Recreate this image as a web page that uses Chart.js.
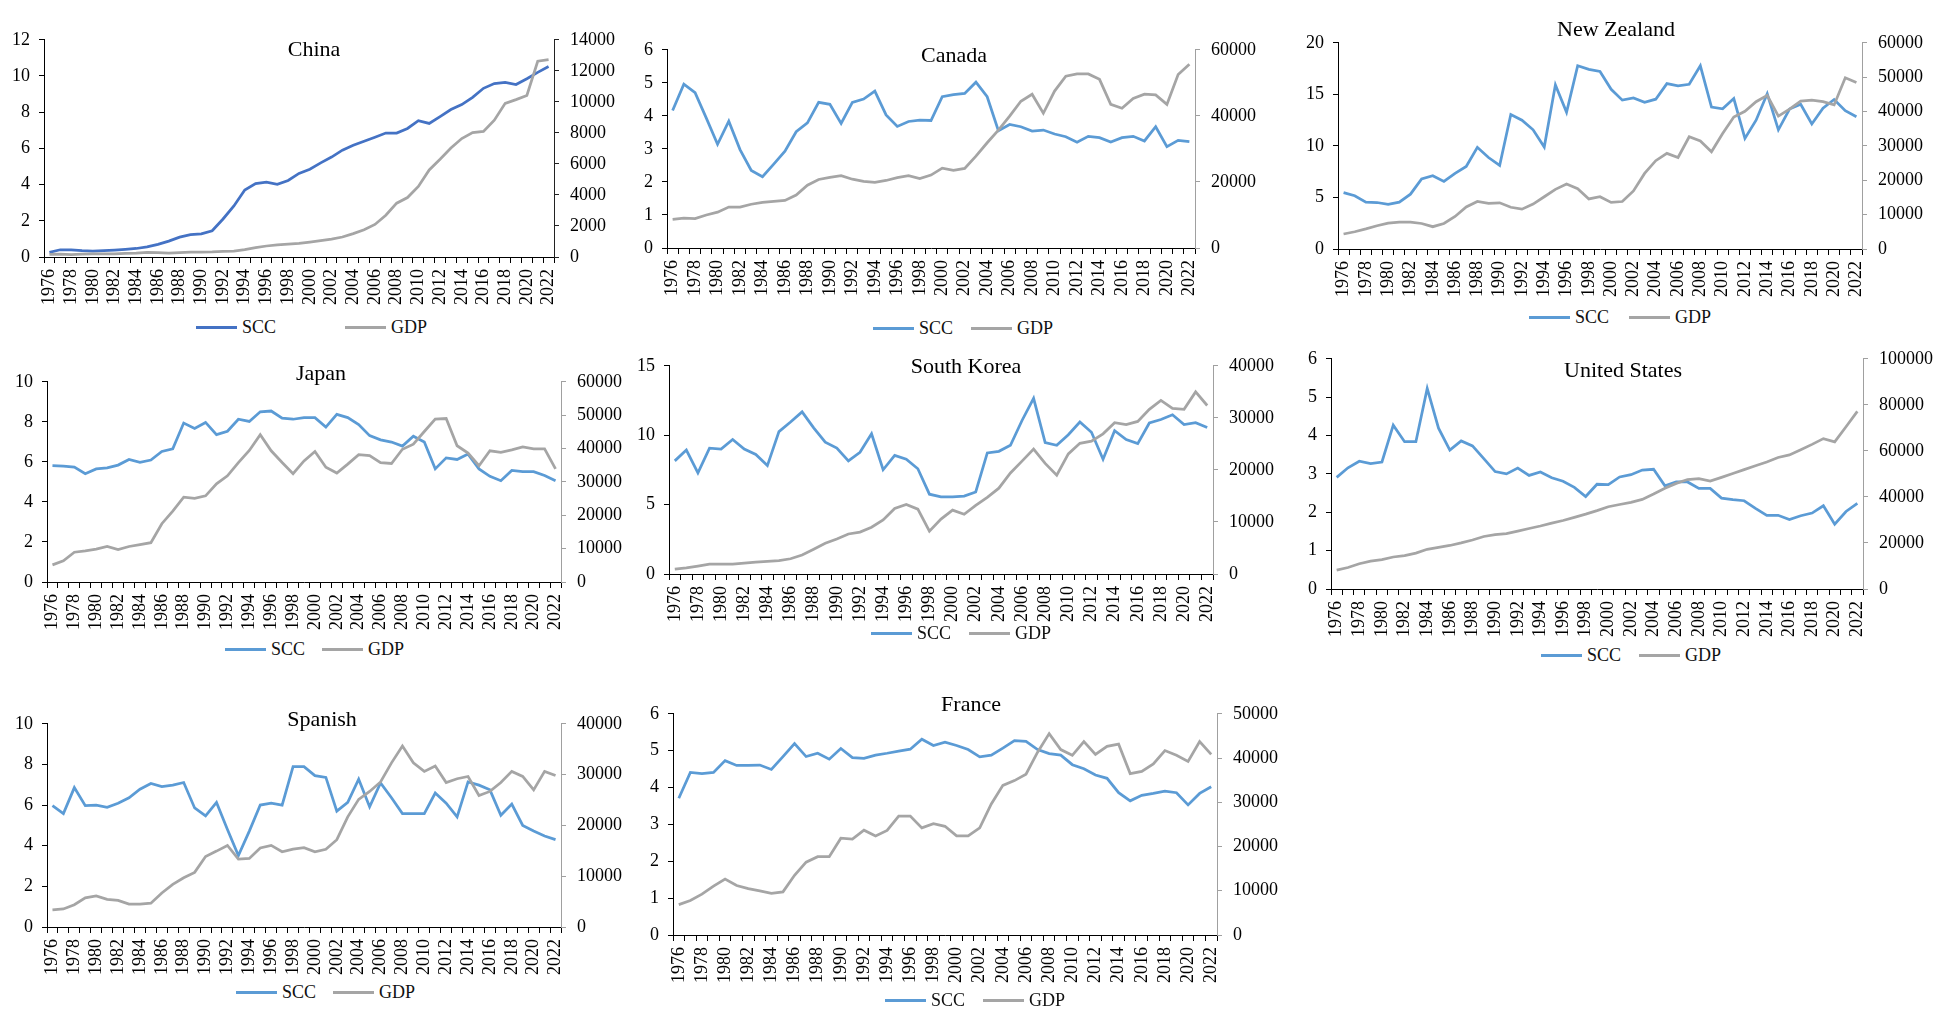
<!DOCTYPE html>
<html>
<head>
<meta charset="utf-8">
<script src="https://cdn.jsdelivr.net/npm/chart.js@4.4.1/dist/chart.umd.min.js"></script>
<style>
  body { margin: 0; background: #fff; width: 1946px; height: 1029px; position: relative; overflow: hidden;
         font-family: 'Liberation Serif', 'Times New Roman', serif; }
  .panel { position: absolute; }
  .title { position: absolute; font-size: 22px; transform: translate(-50%, -50%); white-space: nowrap; color: #000; }
  .leg { position: absolute; height: 20px; font-size: 18px; color: #111; white-space: nowrap; }
  .leg .ln { position: absolute; top: 9px; width: 41px; height: 3px; }
  .leg .tx { position: absolute; top: 0; line-height: 20px; }
</style>
</head>
<body>
<script>
// Categories
const years = ['1976','1977','1978','1979','1980','1981','1982','1983','1984','1985',
  '1986','1987','1988','1989','1990','1991','1992','1993','1994','1995',
  '1996','1997','1998','1999','2000','2001','2002','2003','2004','2005',
  '2006','2007','2008','2009','2010','2011','2012','2013','2014','2015',
  '2016','2017','2018','2019','2020','2021','2022'];

const countries = ['China', 'Canada', 'New Zealand', 'Japan', 'South Korea', 'United States', 'Spanish', 'France'];

// SCC series (left axis)
const sccChina = [0.26,0.40,0.40,0.35,0.32,0.35,0.38,0.42,0.47,0.56, 0.70,0.88,1.10,1.23,1.28,1.45,2.10,2.82,3.70,4.06,
  4.13,4.02,4.23,4.62,4.85,5.20,5.52,5.90,6.17,6.40, 6.62,6.85,6.85,7.10,7.53,7.38,7.76,8.15,8.42,8.82, 9.32,9.58,9.65,9.53,9.85,10.20,10.52];
const sccCanada = [4.16,4.96,4.70,3.93,3.14,3.84,2.98,2.35,2.16,2.54, 2.93,3.52,3.79,4.41,4.35,3.77,4.41,4.51,4.75,4.03,
  3.68,3.83,3.87,3.86,4.58,4.64,4.68,5.02,4.58,3.55, 3.74,3.67,3.54,3.57,3.45,3.37,3.20,3.38,3.34,3.21, 3.34,3.38,3.24,3.67,3.07,3.26,3.22];
const sccNZ = [5.47,5.16,4.54,4.51,4.33,4.54,5.32,6.80,7.11,6.55, 7.33,8.00,9.86,8.87,8.10,13.05,12.49,11.56,9.89,15.92,
  13.26,17.77,17.43,17.22,15.49,14.44,14.65,14.22,14.53,16.04, 15.83,15.98,17.77,13.76,13.60,14.59,10.73,12.49,15.05,11.56, 13.57,14.03,12.12,13.66,14.50,13.42,12.83];
const sccJapan = [5.81,5.79,5.74,5.41,5.65,5.70,5.84,6.12,5.98,6.09, 6.52,6.65,7.94,7.67,7.97,7.36,7.53,8.13,8.02,8.50,
  8.54,8.18,8.13,8.21,8.21,7.74,8.37,8.21,7.86,7.31, 7.10,6.99,6.79,7.28,6.99,5.65,6.20,6.12,6.39,5.65, 5.28,5.06,5.57,5.51,5.51,5.32,5.06];
const sccKorea = [8.15,8.93,7.28,9.07,9.00,9.69,9.00,8.61,7.81,10.26, 10.95,11.68,10.53,9.50,9.07,8.15,8.77,10.10,7.51,8.54,
  8.27,7.58,5.75,5.56,5.56,5.61,5.91,8.72,8.84,9.27, 11.06,12.66,9.46,9.27,10.03,10.95,10.21,8.27,10.33,9.69, 9.39,10.88,11.13,11.47,10.76,10.90,10.56];
const sccUS = [2.91,3.16,3.33,3.27,3.31,4.27,3.84,3.84,5.23,4.19, 3.62,3.86,3.73,3.40,3.06,3.00,3.15,2.96,3.05,2.90,
  2.81,2.65,2.41,2.73,2.72,2.92,2.98,3.10,3.12,2.69, 2.79,2.79,2.62,2.62,2.37,2.33,2.30,2.10,1.92,1.92, 1.81,1.91,1.98,2.17,1.69,2.02,2.23];
const sccSpain = [5.97,5.58,6.86,5.97,6.00,5.89,6.09,6.36,6.78,7.06, 6.91,6.98,7.11,5.86,5.47,6.13,4.80,3.52,4.72,6.00,
  6.09,6.00,7.89,7.89,7.45,7.36,5.70,6.13,7.27,5.92, 7.09,6.36,5.58,5.58,5.58,6.59,6.09,5.42,7.14,6.98, 6.75,5.50,6.05,5.00,4.72,4.48,4.30];
const sccFrance = [3.71,4.41,4.38,4.41,4.73,4.60,4.60,4.61,4.49,4.84, 5.19,4.84,4.93,4.77,5.06,4.81,4.79,4.88,4.93,4.99,
  5.04,5.31,5.14,5.23,5.14,5.03,4.83,4.88,5.07,5.27, 5.25,5.03,4.92,4.88,4.62,4.51,4.34,4.25,3.86,3.64, 3.79,3.84,3.90,3.86,3.53,3.84,4.02];

// GDP series (right axis)
const gdpChina = [165,185,157,184,195,197,203,226,251,294, 282,252,284,311,318,333,366,377,473,610,
  709,782,829,873,959,1053,1149,1289,1509,1753, 2099,2694,3468,3832,4550,5614,6301,7020,7636,8016, 8094,8817,9905,10144,10409,12618,12720];
const gdpCanada = [8640,9020,8930,9980,10850,12380,12380,13240,13820,14110, 14400,16030,19000,20730,21400,21880,20830,20150,19870,20440,
  21300,21880,21020,22070,24180,23510,24090,27830,31860,35700, 39920,44430,46550,40790,47500,52020,52690,52690,51060,43470, 42320,45300,46550,46350,43470,52500,55660];
const gdpNZ = [4360,5010,5840,6770,7510,7790,7790,7420,6490,7420, 9460,12240,13820,13270,13450,12150,11600,13080,15210,17350,
  18920,17530,14560,15210,13540,13820,16880,21990,25700,27830, 26620,32650,31450,28290,33580,38400,40070,42860,44710,38680, 40720,43040,43320,42860,41930,49810,48420];
const gdpJapan = [5130,6360,8930,9310,9880,10640,9690,10640,11210,11780, 17470,21270,25450,25070,25830,29440,31810,35800,39410,44160,
  39320,35800,32480,36280,39130,34380,32670,35330,38180,37890, 35800,35520,39790,41310,45110,48810,49000,40840,38650,34850, 39320,38840,39600,40460,39890,39890,33900];
const gdpKorea = [920,1160,1530,1890,1890,1890,2080,2260,2440,2560, 2930,3660,4760,5920,6720,7690,8060,8980,10380,12580,
  13370,12460,8240,10560,12270,11480,13190,14720,16490,19420, 21680,24000,21250,18990,23080,25100,25530,26930,29070,28700, 29310,31630,33340,31820,31630,34990,32370];
const gdpUS = [8200,9320,10990,12100,12790,13900,14460,15570,17240,18080, 18910,20020,21270,22800,23640,24050,25160,26270,27380,28630,
  29750,31140,32530,34060,35730,36700,37670,38920,41280,43790, 45870,47540,47960,46840,48510,50180,51850,53520,55180,57130, 58240,60470,62830,65330,63940,70470,77150];
const gdpSpain = [3380,3560,4380,5750,6130,5440,5250,4500,4500,4690, 6690,8380,9690,10750,13880,14940,16060,13380,13500,15560,
  16060,14810,15310,15630,14810,15310,17190,21690,25130,26690, 28560,32310,35630,32310,30630,31690,28440,29190,29630,25880, 26690,28440,30630,29630,27000,30630,29810];
const gdpFrance = [6860,7800,9250,11050,12640,11200,10480,9970,9390,9750, 13510,16470,17700,17700,21890,21680,23700,22400,23630,26880,
  26880,24210,25140,24570,22400,22400,24210,29620,33820,34900, 36340,41330,45520,41910,40610,43710,40820,42630,43140,36490, 36990,38660,41690,40610,39230,43710,40820];

const sccSeries = [sccChina, sccCanada, sccNZ, sccJapan, sccKorea, sccUS, sccSpain, sccFrance];
const gdpSeries = [gdpChina, gdpCanada, gdpNZ, gdpJapan, gdpKorea, gdpUS, gdpSpain, gdpFrance];

// Axis ticks
const leftMax = [12, 6, 20, 10, 15, 6, 10, 6];
const leftStep = [2, 1, 5, 2, 5, 1, 2, 1];
const rightMax = [14000, 60000, 60000, 60000, 40000, 100000, 40000, 50000];
const rightStep = [2000, 20000, 10000, 10000, 10000, 20000, 10000, 10000];

// Layout: plot area [left, right, top, bottom], title centre, legend start / spacing
const plotBox = [
  [44, 554, 30, 257], [667, 1195, 40, 248], [1338, 1862, 33, 249],
  [47, 561, 372, 582], [669, 1213, 356, 574], [1331, 1863, 349, 589],
  [47, 561, 714, 927], [673, 1217, 704, 935]
];
const titlePos = [[314, 49], [954, 55], [1616, 29], [321, 373], [966, 366], [1623, 370], [322, 719], [971, 704]];
const legendPos = [[196, 327, 149], [873, 328, 98], [1529, 317, 100], [225, 649, 97], [871, 633, 98], [1541, 655, 98], [236, 992, 97], [885, 1000, 98]];

const GDP_COLOR = '#A5A5A5';
const W_LEFT = 44, W_RIGHT = 70, PAD_TOP = 12, H_X = 54;

countries.forEach((name, i) => {
  const [L, R, T, B] = plotBox[i];
  const sccColor = i === 0 ? '#4472C4' : '#5B9BD5';
  const rightAxisColor = i === 0 ? '#222' : '#A0A0A0';

  const div = document.createElement('div');
  div.className = 'panel';
  const w = R - L + W_LEFT + W_RIGHT;
  const h = B - T + PAD_TOP + H_X;
  div.style.left = (L - W_LEFT) + 'px';
  div.style.top = (T - PAD_TOP) + 'px';
  div.style.width = w + 'px';
  div.style.height = h + 'px';
  const canvas = document.createElement('canvas');
  canvas.width = w;
  canvas.height = h;
  canvas.style.width = w + 'px';
  canvas.style.height = h + 'px';
  div.appendChild(canvas);
  document.body.appendChild(div);

  // Title
  const t = document.createElement('div');
  t.className = 'title';
  t.textContent = name;
  t.style.left = titlePos[i][0] + 'px';
  t.style.top = titlePos[i][1] + 'px';
  document.body.appendChild(t);

  // Legend
  const [lx, ly, gap] = legendPos[i];
  const leg = document.createElement('div');
  leg.className = 'leg';
  leg.style.left = lx + 'px';
  leg.style.top = (ly - 10) + 'px';
  leg.innerHTML =
    `<div class="ln" style="left:0;background:${sccColor}"></div><span class="tx" style="left:46px">SCC</span>` +
    `<div class="ln" style="left:${gap}px;background:${GDP_COLOR}"></div><span class="tx" style="left:${gap + 46}px">GDP</span>`;
  document.body.appendChild(leg);

  new Chart(canvas.getContext('2d'), {
    type: 'line',
    data: {
      labels: years,
      datasets: [
        { label: 'SCC', data: sccSeries[i], yAxisID: 'y', borderColor: sccColor, borderWidth: 2.75, pointRadius: 0, tension: 0, order: 1 },
        { label: 'GDP', data: gdpSeries[i], yAxisID: 'y1', borderColor: GDP_COLOR, borderWidth: 2.75, pointRadius: 0, tension: 0, order: 0 }
      ]
    },
    options: {
      responsive: false,
      animation: false,
      devicePixelRatio: 1,
      layout: { padding: { top: PAD_TOP, left: 0, right: 0, bottom: 0 } },
      plugins: { legend: { display: false }, title: { display: false }, tooltip: { enabled: false } },
      scales: {
        x: {
          offset: true,
          grid: { offset: true, drawOnChartArea: false, color: '#000', tickLength: 6 },
          border: { display: true, color: '#000', width: 1 },
          ticks: {
            autoSkip: false, minRotation: 90, maxRotation: 90, padding: 6,
            color: '#000', font: { family: 'Liberation Serif', size: 18 },
            callback: (v, idx) => (idx % 2 === 0 ? years[idx] : '')
          },
          afterFit: s => { s.height = H_X; }
        },
        y: {
          position: 'left', min: 0, max: leftMax[i],
          grid: { drawOnChartArea: false, color: '#000', tickLength: 5 },
          border: { display: true, color: '#000', width: 1 },
          ticks: { stepSize: leftStep[i], padding: 9, color: '#000', font: { family: 'Liberation Serif', size: 18 }, callback: v => String(v) },
          afterFit: s => { s.width = W_LEFT; }
        },
        y1: {
          position: 'right', min: 0, max: rightMax[i],
          grid: { drawOnChartArea: false, color: rightAxisColor, tickLength: 5 },
          border: { display: true, color: rightAxisColor, width: 1 },
          ticks: { stepSize: rightStep[i], padding: 11, color: '#000', font: { family: 'Liberation Serif', size: 18 }, callback: v => String(v) },
          afterFit: s => { s.width = W_RIGHT; }
        }
      }
    }
  });
});
</script>
</body>
</html>
